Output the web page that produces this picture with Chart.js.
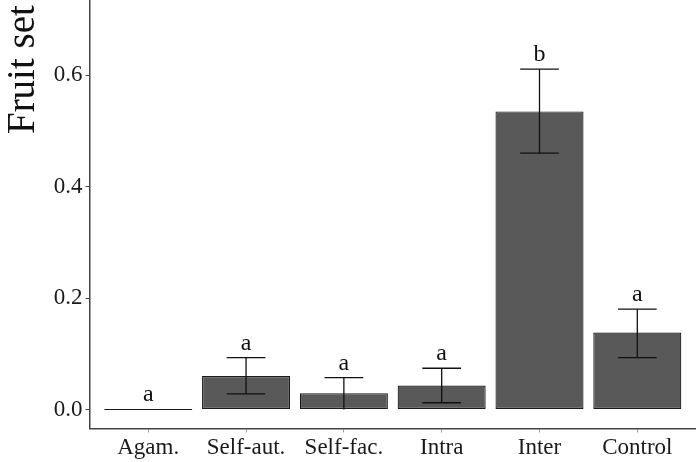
<!DOCTYPE html>
<html>
<head>
<meta charset="utf-8">
<script src="https://cdn.jsdelivr.net/npm/chart.js@4.4.1/dist/chart.umd.min.js"></script>
<style>
html,body{margin:0;padding:0;background:#fff;overflow:hidden;}
#wrap{position:absolute;left:0;top:-306px;width:696px;height:770px;}
</style>
</head>
<body>
<div id="wrap"><canvas id="c" width="696" height="770"></canvas></div>
<script>
const categories=['Agam.','Self-aut.','Self-fac.','Intra','Inter','Control'];
const means=[0,0.060,0.029,0.043,0.535,0.138];
const upper=[0,0.093,0.057,0.074,0.611,0.180];
const lower=[0,0.028,0,0.012,0.460,0.093];
const letters=['a','a','a','a','b','a'];
const yTicks=[0,0.2,0.4,0.6];
const xTicks=[1,2,3,4,5,6];

const serif="'Liberation Serif','Times New Roman',serif";

// error bars + significance letters
const errPlugin={
  id:'errs',
  afterDatasetsDraw(chart){
    const {ctx,scales:{x,y}}=chart;
    const meta=chart.getDatasetMeta(0);
    ctx.save();
    ctx.strokeStyle='#111';
    ctx.lineWidth=1.3;
    ctx.fillStyle='#111';
    ctx.font='24px '+serif;
    ctx.textAlign='center';
    ctx.textBaseline='alphabetic';
    means.forEach((m,i)=>{
      const bar=meta.data[i];
      const cx=x.getPixelForValue(xTicks[i]);
      const half=bar.width*0.22;
      const yt=y.getPixelForValue(upper[i]),yb=y.getPixelForValue(lower[i]);
      if(upper[i]>lower[i]){
        ctx.beginPath();
        ctx.moveTo(cx,yt);ctx.lineTo(cx,yb);
        ctx.moveTo(cx-half,yt);ctx.lineTo(cx+half,yt);
        if(lower[i]>0){ctx.moveTo(cx-half,yb);ctx.lineTo(cx+half,yb);}
        ctx.stroke();
      }
      ctx.fillText(letters[i],cx,yt-8);
    });
    ctx.restore();
  }
};

new Chart(document.getElementById('c'),{
  type:'bar',
  data:{
    datasets:[{
      data:means.map((v,i)=>({x:xTicks[i],y:v})),
      backgroundColor:'#595959',
      borderColor:'#1a1a1a',
      borderWidth:1.2,
      borderSkipped:false,
      minBarLength:1,
      barPercentage:0.9,
      categoryPercentage:1
    }]
  },
  options:{
    responsive:false,
    animation:false,
    layout:{padding:{left:0,right:0,top:0,bottom:0}},
    plugins:{legend:{display:false},tooltip:{enabled:false}},
    scales:{
      x:{
        type:'linear',
        offset:false,
        min:0.4,max:6.6,
        afterBuildTicks:s=>{s.ticks=xTicks.map(v=>({value:v}));},
        ticks:{callback:v=>categories[v-1],color:'#1a1a1a',font:{family:serif,size:23},padding:2,maxRotation:0,autoSkip:false},
        grid:{display:true,offset:false,drawOnChartArea:false,drawTicks:true,tickLength:4,color:'#999'},
        border:{display:true,color:'#444',width:1.5}
      },
      y:{
        min:-0.034,max:1.254,
        afterBuildTicks:s=>{s.ticks=yTicks.map(v=>({value:v}));},
        ticks:{callback:v=>v.toFixed(1),color:'#1a1a1a',font:{family:serif,size:23},padding:3},
        grid:{display:true,drawOnChartArea:false,drawTicks:true,tickLength:4,color:'#444'},
        border:{display:true,color:'#444',width:1.5},
        title:{display:true,text:'Fruit set',color:'#111',font:{family:serif,size:39},padding:{top:0,bottom:4}}
      }
    }
  },
  plugins:[errPlugin]
});
</script>
</body>
</html>
